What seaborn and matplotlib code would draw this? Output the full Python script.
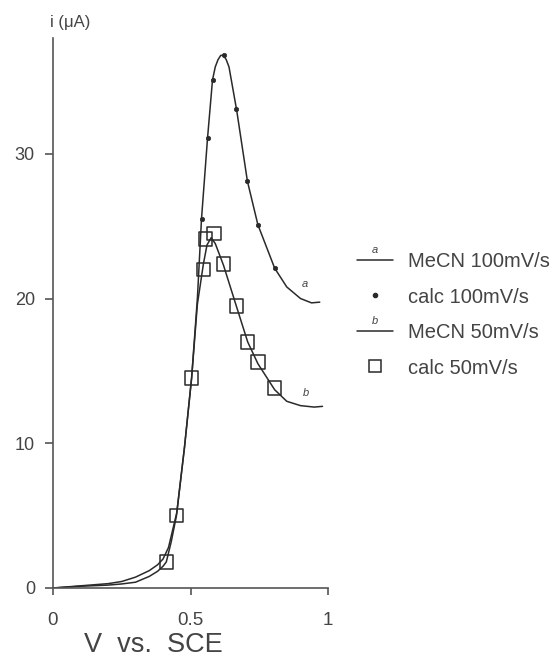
#!/usr/bin/env python3
"""
Cyclic voltammetry: MeCN scans at 100 and 50 mV/s with calculated points
"""

import matplotlib
matplotlib.use('Agg')
import matplotlib.pyplot as plt
import numpy as np
import pandas as pd
import seaborn as sns
from matplotlib.legend_handler import HandlerLine2D
from matplotlib.lines import Line2D
from matplotlib.text import Text

# measured curve, 100 mV/s (a)
v_a = [0.0, 0.1, 0.2, 0.25, 0.3, 0.35, 0.38, 0.4, 0.42, 0.45, 0.478, 0.504,
       0.525, 0.54, 0.562, 0.58, 0.59, 0.6, 0.61, 0.62, 0.63, 0.64, 0.668,
       0.707, 0.745, 0.806, 0.85, 0.9, 0.94, 0.97]
i_a = [0.0, 0.15, 0.3, 0.45, 0.75, 1.2, 1.6, 2.0, 2.8, 5.2, 9.7, 14.5,
       20.0, 25.5, 31.1, 35.1, 36.0, 36.5, 36.8, 36.8, 36.5, 36.0, 33.0,
       28.1, 25.1, 22.1, 20.8, 20.0, 19.7, 19.75]

# measured curve, 50 mV/s (b)
v_b = [0.0, 0.1, 0.2, 0.25, 0.3, 0.35, 0.38, 0.4, 0.412, 0.43, 0.449, 0.478,
       0.504, 0.525, 0.547, 0.56, 0.575, 0.59, 0.62, 0.668, 0.708, 0.745,
       0.806, 0.85, 0.9, 0.95, 0.98]
i_b = [0.0, 0.12, 0.2, 0.28, 0.4, 0.8, 1.15, 1.5, 1.8, 3.2, 5.0, 9.7,
       14.5, 19.6, 22.4, 23.7, 24.2, 23.8, 22.3, 19.4, 17.0, 15.5,
       13.7, 12.9, 12.6, 12.5, 12.55]

# calculated points
v_dot = [0.54, 0.562, 0.58, 0.62, 0.667, 0.707, 0.745, 0.806]
i_dot = [25.5, 31.1, 35.1, 36.8, 33.1, 28.1, 25.1, 22.1]
v_sq = [0.412, 0.449, 0.504, 0.547, 0.555, 0.585, 0.62, 0.668, 0.708, 0.745, 0.806]
i_sq = [1.8, 5.0, 14.5, 22.0, 24.1, 24.5, 22.4, 19.5, 17.0, 15.6, 13.8]

labels = ['MeCN 100mV/s', 'calc 100mV/s', 'MeCN 50mV/s', 'calc 50mV/s']

INK = '#2a2a2a'
TXT = '#444444'


class LetteredLine(HandlerLine2D):
    """Legend line with a small letter written above it"""
    def __init__(self, letter, **kw):
        super().__init__(**kw)
        self.letter = letter

    def create_artists(self, legend, orig_handle, xdescent, ydescent,
                       width, height, fontsize, trans):
        arts = super().create_artists(legend, orig_handle, xdescent, ydescent,
                                      width, height, fontsize, trans)
        t = Text(width / 2 - xdescent, height * 0.85, self.letter,
                 fontsize=fontsize * 0.55, ha='center', va='bottom',
                 style='italic', color=TXT, transform=trans)
        return list(arts) + [t]


sns.set_style('ticks')
plt.rcParams['font.family'] = ['Liberation Sans', 'DejaVu Sans']

fig = plt.figure(figsize=(5.57, 6.58), dpi=100)
ax = fig.add_axes([53 / 557, 1 - 588 / 658, 275 / 557, 550 / 658])

df_a = pd.DataFrame({'v': v_a, 'i': i_a})
df_b = pd.DataFrame({'v': v_b, 'i': i_b})
sns.lineplot(data=df_a, x='v', y='i', ax=ax, color=INK, linewidth=1.1,
             sort=False, estimator=None)
sns.lineplot(data=df_b, x='v', y='i', ax=ax, color=INK, linewidth=1.1,
             sort=False, estimator=None)
sns.scatterplot(x=v_dot, y=i_dot, ax=ax, color=INK, s=10, marker='o',
                edgecolor=INK, linewidth=0.5, zorder=3)
sns.scatterplot(x=v_sq, y=i_sq, ax=ax, marker='s', s=95, facecolor='none',
                edgecolor=INK, linewidth=1.1, zorder=3)

ax.text(0.915, 21.0, 'a', fontsize=8, style='italic', color=TXT, ha='center', va='center')
ax.text(0.92, 13.5, 'b', fontsize=8, style='italic', color=TXT, ha='center', va='center')

ax.set_xlim(0, 1)
ax.set_ylim(0, 38)
ax.set_xticks([0, 0.5, 1])
ax.set_xticklabels(['0', '0.5', '1'])
ax.set_yticks([0, 10, 20, 30])
sns.despine(ax=ax)
for sp in ['left', 'bottom']:
    ax.spines[sp].set_color('#555555')
    ax.spines[sp].set_linewidth(1.2)
ax.tick_params(axis='y', length=6, width=1.2, color='#555555', labelsize=13,
               labelcolor=TXT, pad=7)
ax.tick_params(axis='x', length=5, width=1.2, color='#555555', labelsize=13.5,
               labelcolor=TXT, pad=12)
ax.set_ylabel('')
ax.set_xlabel('V  vs.  SCE', fontsize=19.5, color=TXT, labelpad=6)
ax.xaxis.set_label_coords(0.364, -0.08)

fig.text(50 / 557, 1 - 23 / 658, 'i (μA)', fontsize=12, color=TXT,
         ha='left', va='center')

h_a = Line2D([], [], color=INK, linewidth=1.1)
h_dot = Line2D([], [], color=INK, marker='o', markersize=3, linestyle='none')
h_b = Line2D([], [], color=INK, linewidth=1.1)
h_sq = Line2D([], [], color=INK, marker='s', markersize=9, markerfacecolor='none',
              markeredgewidth=1.1, linestyle='none')
leg = fig.legend([h_a, h_dot, h_b, h_sq], labels, loc='upper left',
                 bbox_to_anchor=(357 / 557, 1 - 252 / 658), frameon=False,
                 fontsize=14.5, handlelength=1.8, handletextpad=0.75,
                 labelspacing=0.82, borderpad=0, borderaxespad=0,
                 handler_map={h_a: LetteredLine('a'), h_b: LetteredLine('b')})
for t in leg.get_texts():
    t.set_color(TXT)

plt.savefig('out.png', dpi=100)
